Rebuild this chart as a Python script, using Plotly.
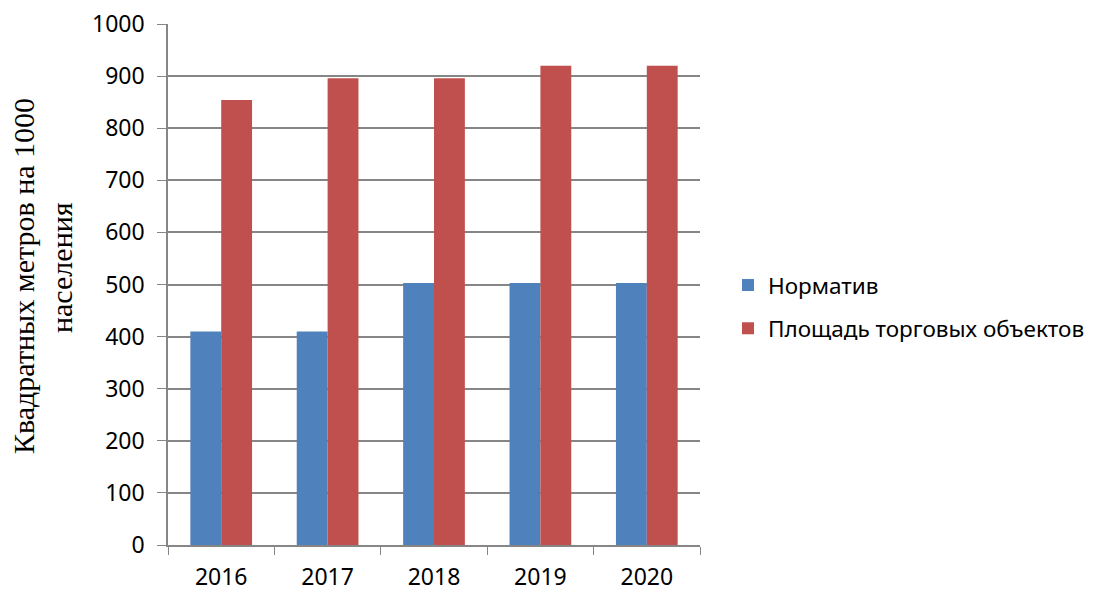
import plotly.graph_objects as go

years = ["2016", "2017", "2018", "2019", "2020"]
normativ = [410, 410, 503, 503, 503]
ploshad = [854, 896, 896, 920, 920]
y_ticks = [0, 100, 200, 300, 400, 500, 600, 700, 800, 900, 1000]
y_title_lines = ["Квадратных метров на 1000", "населения"]

fig = go.Figure()
fig.add_trace(go.Bar(x=years, y=normativ, name="Норматив", legendgroup="a",
                     marker=dict(color="#4F81BD", line=dict(width=0))))
fig.add_trace(go.Bar(x=years, y=ploshad, name="Площадь торговых объектов", legendgroup="b",
                     marker=dict(color="#C0504D", line=dict(width=0))))

fig.update_layout(
    width=1085, height=583,
    margin=dict(l=160, r=393, t=16, b=46, autoexpand=False),
    paper_bgcolor="white", plot_bgcolor="white",
    barmode="group", bargap=0.42, bargroupgap=0,
    font=dict(family="Noto Sans", size=23, color="black"),
    legend=dict(x=1.0526, y=0.457, yanchor="middle", xanchor="left",
                font=dict(family="Noto Sans", size=22.5), tracegroupgap=11,
                traceorder="grouped", itemwidth=30),
    showlegend=True,
)
fig.update_xaxes(type="category", showline=True, linecolor="#868686", linewidth=1.5,
                 ticks="outside", tickson="boundaries", ticklen=8, tickcolor="#868686",
                 showgrid=False, tickfont=dict(size=23), automargin=False,
                 ticklabelstandoff=11, ticklabeloverflow="allow")
fig.update_yaxes(range=[0, 1000], tickvals=y_ticks, showline=True, linecolor="#868686",
                 linewidth=1.5, ticks="outside", ticklen=9, tickcolor="#868686",
                 showgrid=True, gridcolor="#868686", gridwidth=1.5, zeroline=False,
                 tickfont=dict(size=23), automargin=False, ticklabelstandoff=8,
                 ticklabeloverflow="allow")

title_font = dict(family="Liberation Serif", size=30, color="black")
fig.add_annotation(text=y_title_lines[0], xref="paper", yref="paper",
                   x=-0.2726, y=0.5163, xanchor="center", yanchor="middle",
                   textangle=-90, showarrow=False, font=title_font)
fig.add_annotation(text=y_title_lines[1], xref="paper", yref="paper",
                   x=-0.1992, y=0.5317, xanchor="center", yanchor="middle",
                   textangle=-90, showarrow=False, font=title_font)

fig.write_html("out.html")
